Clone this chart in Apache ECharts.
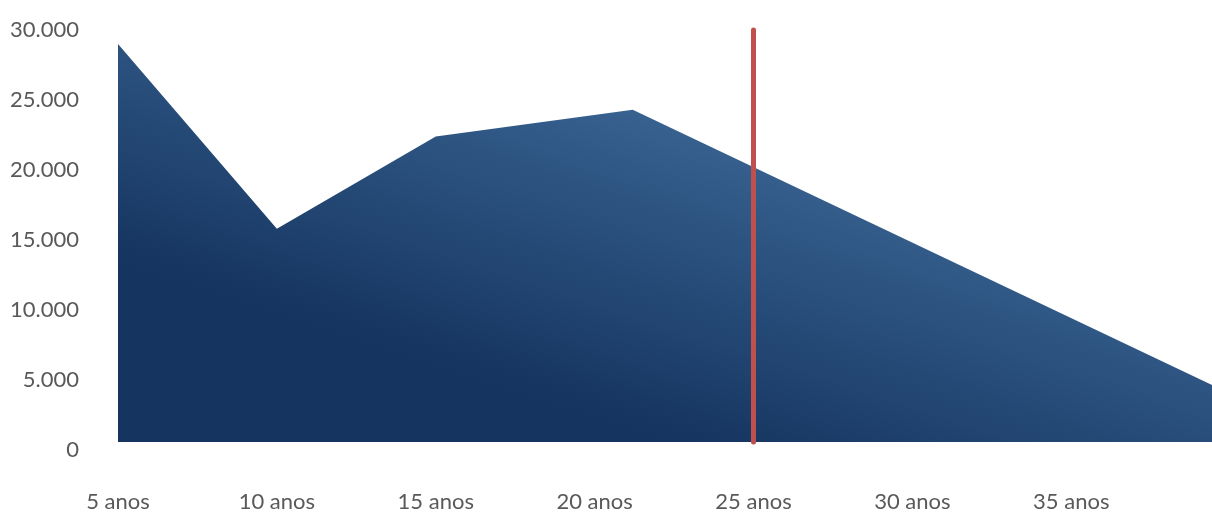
<!DOCTYPE html>
<html lang="pt">
<head>
    <meta charset="UTF-8">
    <title>anos</title>
    <script src="https://cdn.jsdelivr.net/npm/echarts@6/dist/echarts.min.js"></script>
    <style>
        html, body { margin: 0; padding: 0; background: #fff; }
        #main { width: 1212px; height: 513px; }
    </style>
</head>
<body>
<div id="main"></div>

<script>
    // pontos da área (anos, valor)
    var anos = [5, 10, 15, 21.2, 39.43];
    var valores = [29000, 15800, 22400, 24300, 4650];
    var baseArea = 570;      // onde a área encosta embaixo
    var marcaAno = 25;       // linha vermelha
    var marcaTopo = 30000;

    var pontos = anos.map(function (a, i) { return [a, valores[i]]; });

    var myChart = echarts.init(document.getElementById('main'));

    var option = {
        animation: false,
        grid: { left: 118, right: 0, top: 30, bottom: 63 },
        xAxis: {
            type: 'value',
            min: 5,
            max: anos[anos.length - 1],
            interval: 5,
            axisLine: { show: false },
            axisTick: { show: false },
            splitLine: { show: false },
            axisLabel: {
                margin: 41,
                showMaxLabel: false,
                color: '#595959',
                fontFamily: 'Lato',
                fontSize: 22,
                formatter: function (v) { return v + ' anos'; }
            }
        },
        yAxis: {
            type: 'value',
            min: 0,
            max: 30000,
            interval: 5000,
            axisLine: { show: false },
            axisTick: { show: false },
            splitLine: { show: false },
            axisLabel: {
                margin: 39,
                color: '#595959',
                fontFamily: 'Lato',
                fontSize: 22,
                formatter: function (v) {
                    return v === 0 ? '0' : String(v).replace(/(\d)(?=(\d{3})+$)/g, '$1.');
                }
            }
        },
        series: [
            {
                type: 'line',
                data: pontos,
                showSymbol: false,
                lineStyle: { width: 0 },
                areaStyle: {
                    origin: baseArea,
                    opacity: 1,
                    color: {
                        type: 'linear',
                        global: true,
                        x: 541, y: 400, x2: 635, y2: 112,
                        colorStops: [
                            { offset: 0, color: '#15345f' },
                            { offset: 1, color: '#37618f' }
                        ]
                    }
                },
                markLine: {
                    silent: true,
                    symbol: 'none',
                    label: { show: false },
                    lineStyle: { color: '#c0504d', width: 5, type: 'solid', cap: 'round' },
                    data: [
                        [{ coord: [marcaAno, baseArea] }, { coord: [marcaAno, marcaTopo] }]
                    ]
                }
            }
        ]
    };

    myChart.setOption(option, true);
</script>
</body>
</html>
